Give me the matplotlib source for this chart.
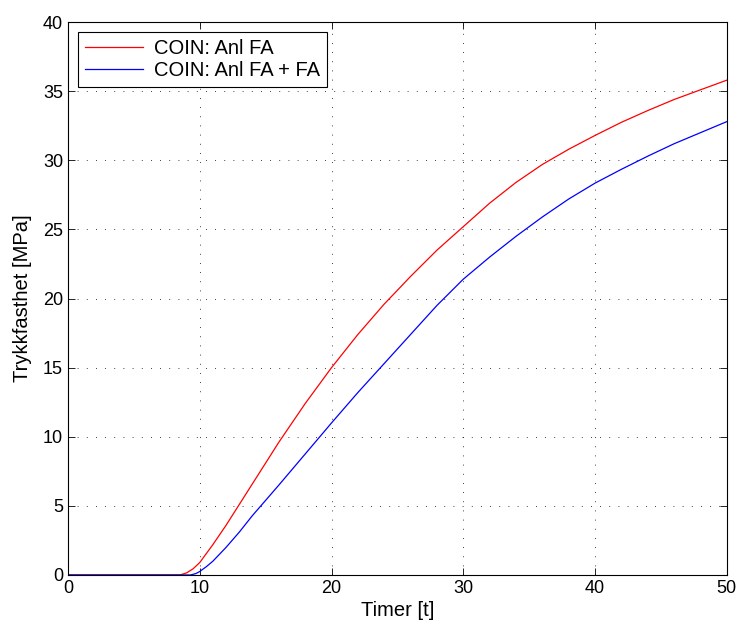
import numpy as np
import matplotlib
matplotlib.use('Agg')
import matplotlib.pyplot as plt

# Values
t_red = [0, 8.5, 9, 9.5, 10, 11, 12, 13, 14, 15, 16, 18, 20, 22, 24, 26, 28,
         30, 32, 34, 36, 38, 40, 42, 44, 46, 48, 50]
p_red = [0, 0, 0.15, 0.45, 0.9, 2.2, 3.6, 5.1, 6.6, 8.1, 9.6, 12.4, 15.0,
         17.4, 19.6, 21.6, 23.5, 25.2, 26.9, 28.4, 29.7, 30.8, 31.8, 32.75,
         33.6, 34.4, 35.1, 35.8]

t_blue = [0, 9.3, 9.7, 10, 10.5, 11, 12, 13, 14, 15, 16, 18, 20, 22, 24, 26,
          28, 30, 32, 34, 36, 38, 40, 42, 44, 46, 48, 50]
p_blue = [0, 0, 0.1, 0.25, 0.6, 1.0, 2.0, 3.1, 4.3, 5.4, 6.5, 8.75, 11.0,
          13.2, 15.3, 17.4, 19.5, 21.4, 23.0, 24.5, 25.9, 27.2, 28.35, 29.35,
          30.3, 31.2, 32.0, 32.8]

labels = ['COIN: Anl FA', 'COIN: Anl FA + FA']

plt.rcParams['font.family'] = ['Liberation Sans', 'DejaVu Sans']
plt.rcParams['font.size'] = 13

fig = plt.figure(figsize=(7.42, 6.29), dpi=100)
ax = fig.add_axes([0.0916, 0.0859, 0.888, 0.879])

ax.plot(t_red, p_red, '-', color='red', lw=0.9, label=labels[0])
ax.plot(t_blue, p_blue, '-', color='blue', lw=0.9, label=labels[1])

ax.set_xlim(0, 50)
ax.set_ylim(0, 40)
ax.set_xticks(np.arange(0, 51, 10))
ax.set_yticks(np.arange(0, 41, 5))
ax.grid(True, color='black', linestyle=(0, (1, 10)), linewidth=0.6)
ax.tick_params(direction='in', top=True, right=True, length=5, width=0.6,
               labelsize=13)
for s in ax.spines.values():
    s.set_linewidth(0.8)

ax.set_xlabel('Timer [t]', fontsize=14.5, labelpad=3)
ax.set_ylabel('Trykkfasthet [MPa]', fontsize=14.5, labelpad=8)

leg = ax.legend(loc='upper left', fancybox=False, framealpha=1,
                edgecolor='black', borderaxespad=0.5, handlelength=2.9,
                fontsize=14.5, borderpad=0.35, labelspacing=0.15,
                handletextpad=0.5)
leg.get_frame().set_linewidth(0.8)

fig.savefig('out.png', dpi=100)
